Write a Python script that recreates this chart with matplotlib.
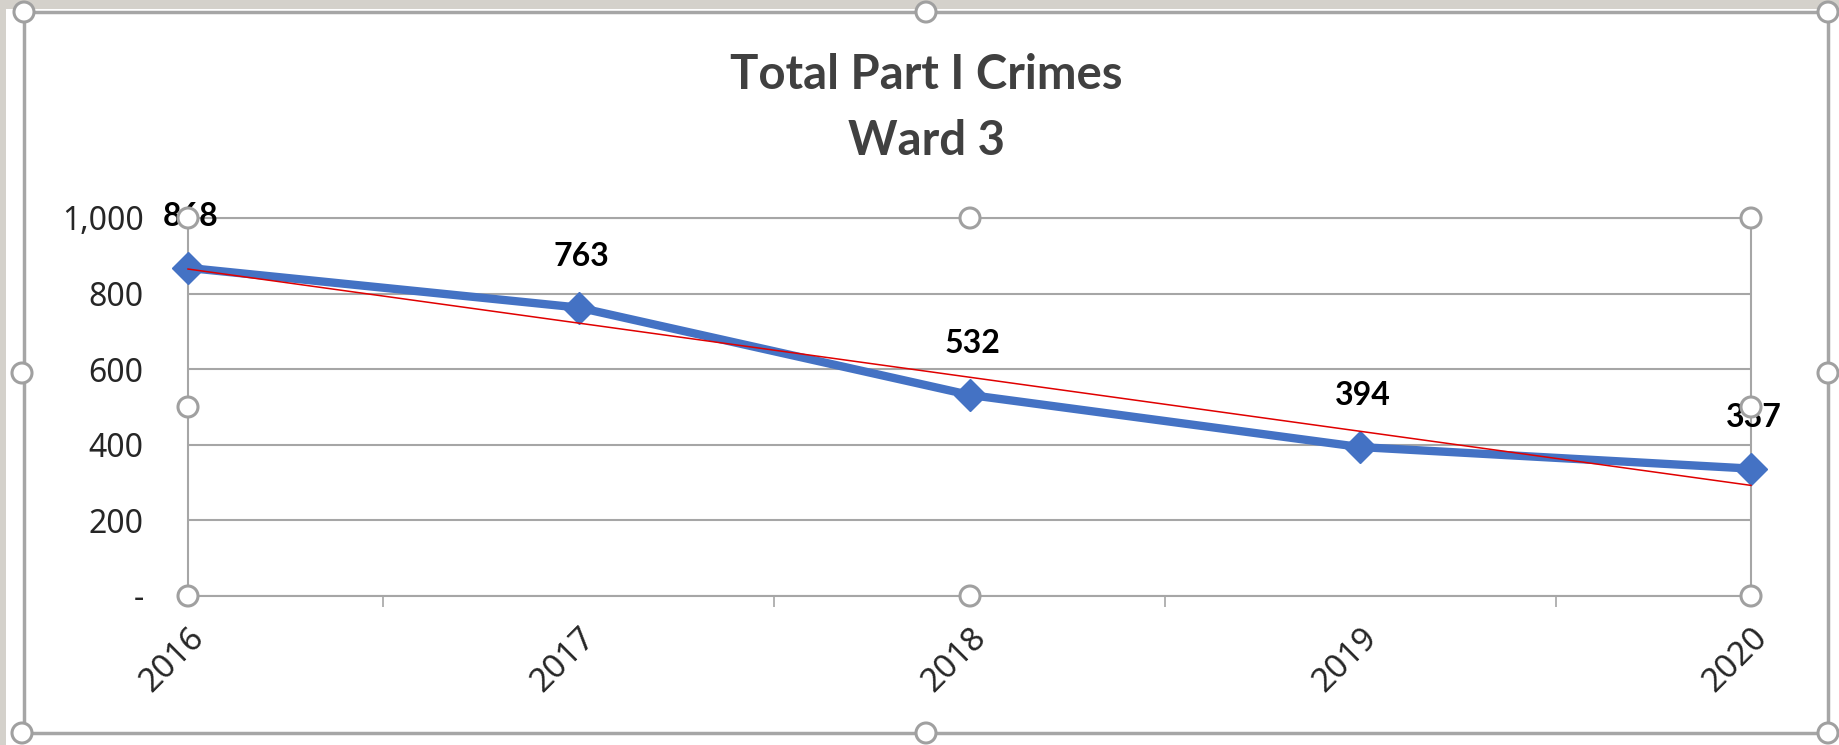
import numpy as np
import matplotlib
matplotlib.use("Agg")
import matplotlib.pyplot as plt
from matplotlib.patches import Rectangle, Ellipse

plt.rcParams['font.family'] = ['Noto Sans', 'DejaVu Sans']
BOLD_FONT = ['Lato', 'DejaVu Sans']

years = ["2016", "2017", "2018", "2019", "2020"]
crimes = [868, 763, 532, 394, 337]
y_ticks = [0, 200, 400, 600, 800, 1000]
y_labels = ["-", "200", "400", "600", "800", "1,000"]

W, H = 1839, 745
fig = plt.figure(figsize=(W / 100, H / 100), dpi=100, facecolor="#d4d1cb")

# pixel (from top-left) -> figure fraction
def px(x, y):
    return x / W, 1 - y / H

# white chart area + selected-chart frame
fig.patches.append(Rectangle(px(6, 745), (W - 6) / W, (745 - 9) / H,
                             transform=fig.transFigure, facecolor="white",
                             edgecolor="none", zorder=-5))
fig.patches.append(Rectangle(px(24, 733), (1828 - 24) / W, (733 - 12) / H,
                             transform=fig.transFigure, facecolor="none",
                             edgecolor="#a6a6a6", lw=2.5, zorder=1))

ax = fig.add_axes([188 / W, 1 - 596 / H, (1751 - 188) / W, (596 - 218) / H])
ax.set_facecolor("none")

x = np.arange(len(years))
ax.plot(x, crimes, color="#4472c4", lw=6, marker="D", markersize=16,
        solid_joinstyle="round", zorder=3, clip_on=False)

# linear trendline
k, b = np.polyfit(x, crimes, 1)
ax.plot(x, k * x + b, color="#e00000", lw=1.1, zorder=4, clip_on=False)

for xi, v in zip(x, crimes):
    ax.annotate(str(v), (xi, v), xytext=(2, 37), textcoords="offset points",
                ha="center", va="center", fontsize=23, fontweight="bold",
                family=BOLD_FONT, color="black", zorder=5)

ax.set_xlim(0, len(years) - 1)
ax.set_ylim(0, 1000)
ax.set_yticks(y_ticks)
ax.set_yticklabels(y_labels, fontsize=23, color="#262626")
ax.yaxis.grid(True, color="#a6a6a6", lw=1.5)
ax.tick_params(axis="y", length=0, pad=32)

ax.set_xticks(x)
ax.set_xticklabels(years, rotation=45, ha="right", va="top",
                   rotation_mode="anchor", fontsize=24, color="#262626")
ax.set_xticks(x[:-1] + 0.5, minor=True)
ax.tick_params(axis="x", which="major", length=0, pad=18)
ax.tick_params(axis="x", which="minor", length=8, width=1.2, color="#a6a6a6")

for s in ["top", "bottom", "left", "right"]:
    ax.spines[s].set_color("#a6a6a6")
    ax.spines[s].set_linewidth(1.5)

# title centred on the whole chart area
fig.text(*px(926, 108), "Total Part I Crimes\nWard 3", fontsize=34,
         fontweight="bold", family=BOLD_FONT, color="#404040",
         ha="center", va="center", linespacing=1.6)

# selection handles
def handle(cx, cy, r=10):
    fig.patches.append(Ellipse(px(cx, cy), 2 * r / W, 2 * r / H,
                               transform=fig.transFigure, facecolor="white",
                               edgecolor="#a0a0a0", lw=2.2, zorder=10))

for hx, hy in [(188, 218), (970, 218), (1751, 218), (188, 407), (1751, 407),
               (188, 596), (970, 596), (1751, 596)]:
    handle(hx, hy)
for hx, hy in [(24, 12), (926, 12), (1828, 12), (22, 373), (1828, 373),
               (22, 733), (926, 733), (1828, 733)]:
    handle(hx, hy)

fig.savefig("out.png", dpi=100, facecolor=fig.get_facecolor())
